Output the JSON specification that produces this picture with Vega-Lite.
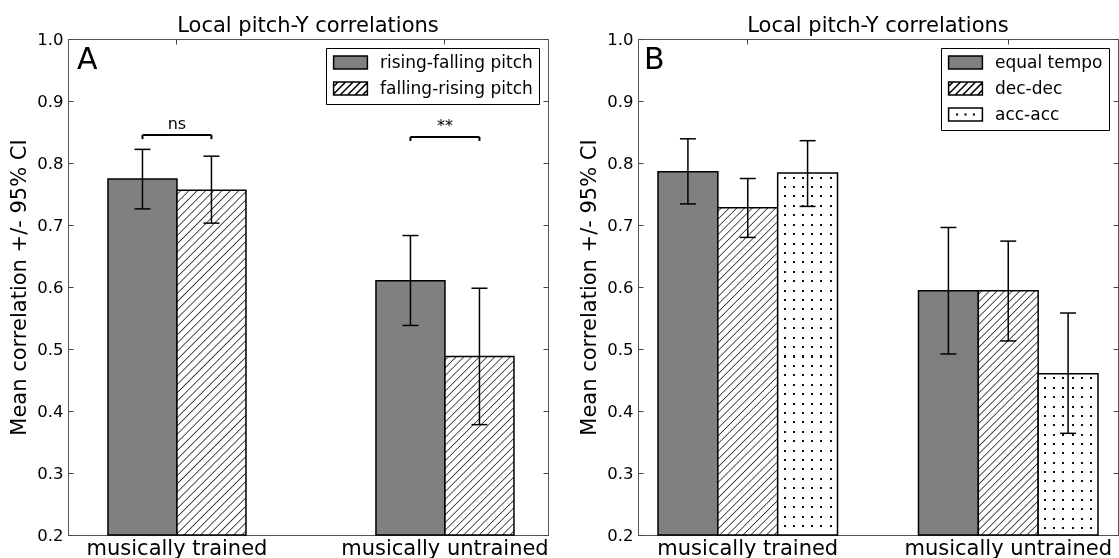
{
  "$schema": "https://vega.github.io/schema/vega-lite/v6.json",
  "background": "white",
  "padding": {"left": 8, "top": 14, "right": 0, "bottom": 0},
  "config": {
    "font": "DejaVu Sans",
    "view": {"stroke": "#555", "strokeWidth": 1},
    "axis": {"labelColor": "black", "titleColor": "black", "gridOpacity": 1, "gridWidth": 1, "labelLimit": 400},
    "title": {"fontSize": 21, "fontWeight": "normal", "color": "black"},
    "legend": {"labelColor": "black"}
  },
  "datasets": {
    "panelA": [
      {"group": "musically trained", "cond": "rising-falling pitch", "mean": 0.774, "lo": 0.726, "hi": 0.822},
      {"group": "musically trained", "cond": "falling-rising pitch", "mean": 0.756, "lo": 0.703, "hi": 0.811},
      {"group": "musically untrained", "cond": "rising-falling pitch", "mean": 0.61, "lo": 0.538, "hi": 0.683},
      {"group": "musically untrained", "cond": "falling-rising pitch", "mean": 0.488, "lo": 0.378, "hi": 0.598}
    ],
    "bracketsA": [
      {"group": "musically trained", "level": 0.845, "mark": "ns"},
      {"group": "musically untrained", "level": 0.842, "mark": "**"}
    ],
    "panelB": [
      {"group": "musically trained", "cond": "equal tempo", "mean": 0.786, "lo": 0.734, "hi": 0.839},
      {"group": "musically trained", "cond": "dec-dec", "mean": 0.728, "lo": 0.68, "hi": 0.775},
      {"group": "musically trained", "cond": "acc-acc", "mean": 0.784, "lo": 0.73, "hi": 0.836},
      {"group": "musically untrained", "cond": "equal tempo", "mean": 0.594, "lo": 0.492, "hi": 0.696},
      {"group": "musically untrained", "cond": "dec-dec", "mean": 0.594, "lo": 0.513, "hi": 0.674},
      {"group": "musically untrained", "cond": "acc-acc", "mean": 0.46, "lo": 0.364, "hi": 0.558}
    ]
  },
  "spacing": 29,
  "resolve": {
    "scale": {"x": "independent", "y": "independent", "xOffset": "independent", "fill": "independent"},
    "legend": {"fill": "independent"}
  },
  "hconcat": [
    {
      "width": 480,
      "height": 496,
      "title": {"text": "Local pitch-Y correlations", "baseline": "alphabetic", "offset": -22},
      "layer": [
        {
          "data": {"name": "panelA"},
          "mark": {"type": "bar", "stroke": "black", "strokeWidth": 1.5},
          "encoding": {
            "x": {"field": "group", "type": "nominal", "sort": ["musically trained", "musically untrained"],
                  "scale": {"paddingInner": 0.4851, "paddingOuter": 0.1381, "align": 0.54},
                  "axis": {"title": null, "labelAngle": 0, "labelFontSize": 21, "labelPadding": 2, "labelLimit": 400, "domain": false, "ticks": false,
                           "grid": true, "gridColor": "#444", "gridDash": [5, 486, 5]}},
            "xOffset": {"field": "cond", "type": "nominal", "sort": ["rising-falling pitch", "falling-rising pitch"],
                        "scale": {"domain": ["rising-falling pitch", "falling-rising pitch"], "paddingInner": 0, "paddingOuter": 0}},
            "y": {"field": "mean", "type": "quantitative",
                  "scale": {"domain": [0.2, 1.0], "zero": false, "nice": false},
                  "axis": {"title": "Mean correlation +/- 95% CI", "values": [0.2, 0.3, 0.4, 0.5, 0.6, 0.7, 0.8, 0.9, 1.0],
                           "format": ".1f", "labelFontSize": 16.5, "labelPadding": 5, "titleFontSize": 21,
                           "titleFontWeight": "normal", "titlePadding": 7, "domain": false, "ticks": false,
                           "grid": true, "gridColor": "#444", "gridDash": [5, 470, 5]}},
            "y2": {"datum": 0.2},
            "fill": {
              "condition": [
                {"test": "datum.cond === 'falling-rising pitch' && datum.group === 'musically trained'",
                 "value": {"gradient": "linear", "x1": 0, "y1": 0, "x2": 0.231, "y2": 1.154, "stops": [
{"offset":0.007,"color":"#fff"},{"offset":0.01,"color":"#333"},{"offset":0.013,"color":"#fff"},
{"offset":0.027,"color":"#fff"},{"offset":0.03,"color":"#333"},{"offset":0.033,"color":"#fff"},
{"offset":0.047,"color":"#fff"},{"offset":0.05,"color":"#333"},{"offset":0.053,"color":"#fff"},
{"offset":0.067,"color":"#fff"},{"offset":0.07,"color":"#333"},{"offset":0.073,"color":"#fff"},
{"offset":0.087,"color":"#fff"},{"offset":0.09,"color":"#333"},{"offset":0.093,"color":"#fff"},
{"offset":0.107,"color":"#fff"},{"offset":0.11,"color":"#333"},{"offset":0.113,"color":"#fff"},
{"offset":0.127,"color":"#fff"},{"offset":0.13,"color":"#333"},{"offset":0.133,"color":"#fff"},
{"offset":0.147,"color":"#fff"},{"offset":0.15,"color":"#333"},{"offset":0.153,"color":"#fff"},
{"offset":0.167,"color":"#fff"},{"offset":0.17,"color":"#333"},{"offset":0.173,"color":"#fff"},
{"offset":0.187,"color":"#fff"},{"offset":0.19,"color":"#333"},{"offset":0.193,"color":"#fff"},
{"offset":0.207,"color":"#fff"},{"offset":0.21,"color":"#333"},{"offset":0.213,"color":"#fff"},
{"offset":0.227,"color":"#fff"},{"offset":0.23,"color":"#333"},{"offset":0.233,"color":"#fff"},
{"offset":0.247,"color":"#fff"},{"offset":0.25,"color":"#333"},{"offset":0.253,"color":"#fff"},
{"offset":0.267,"color":"#fff"},{"offset":0.27,"color":"#333"},{"offset":0.273,"color":"#fff"},
{"offset":0.287,"color":"#fff"},{"offset":0.29,"color":"#333"},{"offset":0.293,"color":"#fff"},
{"offset":0.307,"color":"#fff"},{"offset":0.31,"color":"#333"},{"offset":0.313,"color":"#fff"},
{"offset":0.327,"color":"#fff"},{"offset":0.33,"color":"#333"},{"offset":0.333,"color":"#fff"},
{"offset":0.347,"color":"#fff"},{"offset":0.35,"color":"#333"},{"offset":0.353,"color":"#fff"},
{"offset":0.367,"color":"#fff"},{"offset":0.37,"color":"#333"},{"offset":0.373,"color":"#fff"},
{"offset":0.387,"color":"#fff"},{"offset":0.39,"color":"#333"},{"offset":0.393,"color":"#fff"},
{"offset":0.407,"color":"#fff"},{"offset":0.41,"color":"#333"},{"offset":0.413,"color":"#fff"},
{"offset":0.427,"color":"#fff"},{"offset":0.43,"color":"#333"},{"offset":0.433,"color":"#fff"},
{"offset":0.447,"color":"#fff"},{"offset":0.45,"color":"#333"},{"offset":0.453,"color":"#fff"},
{"offset":0.467,"color":"#fff"},{"offset":0.47,"color":"#333"},{"offset":0.473,"color":"#fff"},
{"offset":0.487,"color":"#fff"},{"offset":0.49,"color":"#333"},{"offset":0.493,"color":"#fff"},
{"offset":0.507,"color":"#fff"},{"offset":0.51,"color":"#333"},{"offset":0.513,"color":"#fff"},
{"offset":0.527,"color":"#fff"},{"offset":0.53,"color":"#333"},{"offset":0.533,"color":"#fff"},
{"offset":0.547,"color":"#fff"},{"offset":0.55,"color":"#333"},{"offset":0.553,"color":"#fff"},
{"offset":0.567,"color":"#fff"},{"offset":0.57,"color":"#333"},{"offset":0.573,"color":"#fff"},
{"offset":0.587,"color":"#fff"},{"offset":0.59,"color":"#333"},{"offset":0.593,"color":"#fff"},
{"offset":0.607,"color":"#fff"},{"offset":0.61,"color":"#333"},{"offset":0.613,"color":"#fff"},
{"offset":0.627,"color":"#fff"},{"offset":0.63,"color":"#333"},{"offset":0.633,"color":"#fff"},
{"offset":0.647,"color":"#fff"},{"offset":0.65,"color":"#333"},{"offset":0.653,"color":"#fff"},
{"offset":0.667,"color":"#fff"},{"offset":0.67,"color":"#333"},{"offset":0.673,"color":"#fff"},
{"offset":0.687,"color":"#fff"},{"offset":0.69,"color":"#333"},{"offset":0.693,"color":"#fff"},
{"offset":0.707,"color":"#fff"},{"offset":0.71,"color":"#333"},{"offset":0.713,"color":"#fff"},
{"offset":0.727,"color":"#fff"},{"offset":0.73,"color":"#333"},{"offset":0.733,"color":"#fff"},
{"offset":0.747,"color":"#fff"},{"offset":0.75,"color":"#333"},{"offset":0.753,"color":"#fff"},
{"offset":0.767,"color":"#fff"},{"offset":0.77,"color":"#333"},{"offset":0.773,"color":"#fff"},
{"offset":0.787,"color":"#fff"},{"offset":0.79,"color":"#333"},{"offset":0.793,"color":"#fff"},
{"offset":0.807,"color":"#fff"},{"offset":0.81,"color":"#333"},{"offset":0.813,"color":"#fff"},
{"offset":0.827,"color":"#fff"},{"offset":0.83,"color":"#333"},{"offset":0.833,"color":"#fff"},
{"offset":0.847,"color":"#fff"},{"offset":0.85,"color":"#333"},{"offset":0.853,"color":"#fff"},
{"offset":0.867,"color":"#fff"},{"offset":0.87,"color":"#333"},{"offset":0.873,"color":"#fff"},
{"offset":0.887,"color":"#fff"},{"offset":0.89,"color":"#333"},{"offset":0.893,"color":"#fff"},
{"offset":0.907,"color":"#fff"},{"offset":0.91,"color":"#333"},{"offset":0.913,"color":"#fff"},
{"offset":0.927,"color":"#fff"},{"offset":0.93,"color":"#333"},{"offset":0.933,"color":"#fff"},
{"offset":0.947,"color":"#fff"},{"offset":0.95,"color":"#333"},{"offset":0.953,"color":"#fff"},
{"offset":0.967,"color":"#fff"},{"offset":0.97,"color":"#333"},{"offset":0.973,"color":"#fff"},
{"offset":0.987,"color":"#fff"},{"offset":0.99,"color":"#333"},{"offset":0.993,"color":"#fff"}
                 ]}},
                {"test": "datum.cond === 'falling-rising pitch' && datum.group === 'musically untrained'",
                 "value": {"gradient": "linear", "x1": 0, "y1": 0, "x2": 0.466, "y2": 1.206, "stops": [
{"offset":0.0109,"color":"#fff"},{"offset":0.0156,"color":"#333"},{"offset":0.0203,"color":"#fff"},
{"offset":0.0422,"color":"#fff"},{"offset":0.0469,"color":"#333"},{"offset":0.0516,"color":"#fff"},
{"offset":0.0734,"color":"#fff"},{"offset":0.0781,"color":"#333"},{"offset":0.0828,"color":"#fff"},
{"offset":0.1047,"color":"#fff"},{"offset":0.1094,"color":"#333"},{"offset":0.1141,"color":"#fff"},
{"offset":0.1359,"color":"#fff"},{"offset":0.1406,"color":"#333"},{"offset":0.1453,"color":"#fff"},
{"offset":0.1672,"color":"#fff"},{"offset":0.1719,"color":"#333"},{"offset":0.1766,"color":"#fff"},
{"offset":0.1984,"color":"#fff"},{"offset":0.2031,"color":"#333"},{"offset":0.2078,"color":"#fff"},
{"offset":0.2297,"color":"#fff"},{"offset":0.2344,"color":"#333"},{"offset":0.2391,"color":"#fff"},
{"offset":0.2609,"color":"#fff"},{"offset":0.2656,"color":"#333"},{"offset":0.2703,"color":"#fff"},
{"offset":0.2922,"color":"#fff"},{"offset":0.2969,"color":"#333"},{"offset":0.3016,"color":"#fff"},
{"offset":0.3234,"color":"#fff"},{"offset":0.3281,"color":"#333"},{"offset":0.3328,"color":"#fff"},
{"offset":0.3547,"color":"#fff"},{"offset":0.3594,"color":"#333"},{"offset":0.3641,"color":"#fff"},
{"offset":0.3859,"color":"#fff"},{"offset":0.3906,"color":"#333"},{"offset":0.3953,"color":"#fff"},
{"offset":0.4172,"color":"#fff"},{"offset":0.4219,"color":"#333"},{"offset":0.4266,"color":"#fff"},
{"offset":0.4484,"color":"#fff"},{"offset":0.4531,"color":"#333"},{"offset":0.4578,"color":"#fff"},
{"offset":0.4797,"color":"#fff"},{"offset":0.4844,"color":"#333"},{"offset":0.4891,"color":"#fff"},
{"offset":0.5109,"color":"#fff"},{"offset":0.5156,"color":"#333"},{"offset":0.5203,"color":"#fff"},
{"offset":0.5422,"color":"#fff"},{"offset":0.5469,"color":"#333"},{"offset":0.5516,"color":"#fff"},
{"offset":0.5734,"color":"#fff"},{"offset":0.5781,"color":"#333"},{"offset":0.5828,"color":"#fff"},
{"offset":0.6047,"color":"#fff"},{"offset":0.6094,"color":"#333"},{"offset":0.6141,"color":"#fff"},
{"offset":0.6359,"color":"#fff"},{"offset":0.6406,"color":"#333"},{"offset":0.6453,"color":"#fff"},
{"offset":0.6672,"color":"#fff"},{"offset":0.6719,"color":"#333"},{"offset":0.6766,"color":"#fff"},
{"offset":0.6984,"color":"#fff"},{"offset":0.7031,"color":"#333"},{"offset":0.7078,"color":"#fff"},
{"offset":0.7297,"color":"#fff"},{"offset":0.7344,"color":"#333"},{"offset":0.7391,"color":"#fff"},
{"offset":0.7609,"color":"#fff"},{"offset":0.7656,"color":"#333"},{"offset":0.7703,"color":"#fff"},
{"offset":0.7922,"color":"#fff"},{"offset":0.7969,"color":"#333"},{"offset":0.8016,"color":"#fff"},
{"offset":0.8234,"color":"#fff"},{"offset":0.8281,"color":"#333"},{"offset":0.8328,"color":"#fff"},
{"offset":0.8547,"color":"#fff"},{"offset":0.8594,"color":"#333"},{"offset":0.8641,"color":"#fff"},
{"offset":0.8859,"color":"#fff"},{"offset":0.8906,"color":"#333"},{"offset":0.8953,"color":"#fff"},
{"offset":0.9172,"color":"#fff"},{"offset":0.9219,"color":"#333"},{"offset":0.9266,"color":"#fff"},
{"offset":0.9484,"color":"#fff"},{"offset":0.9531,"color":"#333"},{"offset":0.9578,"color":"#fff"},
{"offset":0.9797,"color":"#fff"},{"offset":0.9844,"color":"#333"},{"offset":0.9891,"color":"#fff"}
                 ]}}
              ],
              "field": "cond", "type": "nominal", "sort": ["rising-falling pitch", "falling-rising pitch"],
              "scale": {"domain": ["rising-falling pitch", "falling-rising pitch"], "range": ["#808080", "#ffffff"]},
              "legend": {
                "title": null, "orient": "top-right", "offset": 9, "padding": 6,
                "strokeColor": "black", "fillColor": "white", "cornerRadius": 0,
                "labelFontSize": 17, "labelLimit": 400, "symbolSize": 169, "symbolOffset": 10, "labelOffset": 21,
                "rowPadding": 7, "symbolStrokeWidth": 1.5, "symbolStrokeColor": "black",
                "encode": {"symbols": {"update": {
                  "shape": {"signal": "datum.value === 'falling-rising pitch' ? 'M-2.6,-1H2.6V1H-2.6Z M-2.6,-0.3L-1.9,-1 M-2.6,0.85L-0.75,-1 M-1.6,1L0.4,-1 M-0.45,1L1.55,-1 M0.7,1L2.6,-0.9 M1.85,1L2.6,0.25' : 'M-2.6,-1H2.6V1H-2.6Z'"},
                  "stroke": {"value": "black"}, "strokeWidth": {"value": 1.5}
                }}}
              }
            }
          }
        },
        {
          "data": {"name": "panelA"},
          "mark": {"type": "rule", "color": "black", "strokeWidth": 1.5},
          "encoding": {
            "x": {"field": "group", "type": "nominal", "sort": ["musically trained", "musically untrained"]},
            "xOffset": {"field": "cond", "type": "nominal", "sort": ["rising-falling pitch", "falling-rising pitch"]},
            "y": {"field": "lo", "type": "quantitative"},
            "y2": {"field": "hi"}
          }
        },
        {
          "data": {"name": "panelA"},
          "transform": [{"fold": ["lo", "hi"], "as": ["end", "ci"]}],
          "mark": {"type": "tick", "orient": "horizontal", "size": 16, "thickness": 1.5, "color": "black", "opacity": 1},
          "encoding": {
            "x": {"field": "group", "type": "nominal", "sort": ["musically trained", "musically untrained"]},
            "xOffset": {"field": "cond", "type": "nominal", "sort": ["rising-falling pitch", "falling-rising pitch"]},
            "y": {"field": "ci", "type": "quantitative"}
          }
        },
        {
          "data": {"name": "bracketsA"},
          "mark": {"type": "tick", "orient": "horizontal", "size": 69, "thickness": 2, "color": "black", "opacity": 1},
          "encoding": {
            "x": {"field": "group", "type": "nominal", "sort": ["musically trained", "musically untrained"]},
            "y": {"field": "level", "type": "quantitative"}
          }
        },
        {
          "data": {"name": "bracketsA"},
          "mark": {"type": "rule", "color": "black", "strokeWidth": 2, "y2Offset": 4},
          "encoding": {
            "x": {"field": "group", "type": "nominal", "sort": ["musically trained", "musically untrained"], "bandPosition": 0.25},
            "y": {"field": "level", "type": "quantitative"},
            "y2": {"field": "level"}
          }
        },
        {
          "data": {"name": "bracketsA"},
          "mark": {"type": "rule", "color": "black", "strokeWidth": 2, "y2Offset": 4},
          "encoding": {
            "x": {"field": "group", "type": "nominal", "sort": ["musically trained", "musically untrained"], "bandPosition": 0.75},
            "y": {"field": "level", "type": "quantitative"},
            "y2": {"field": "level"}
          }
        },
        {
          "data": {"name": "bracketsA"},
          "mark": {"type": "text", "fontSize": 16, "baseline": "alphabetic", "dy": -6, "color": "black"},
          "encoding": {
            "x": {"field": "group", "type": "nominal", "sort": ["musically trained", "musically untrained"]},
            "y": {"field": "level", "type": "quantitative"},
            "text": {"field": "mark"}
          }
        },
        {
          "data": {"values": [{"panel": "A"}]},
          "mark": {"type": "text", "fontSize": 30, "align": "left", "baseline": "alphabetic", "dx": -31, "dy": 30, "color": "black"},
          "encoding": {
            "x": {"datum": "musically trained", "type": "nominal", "bandPosition": 0},
            "y": {"datum": 1.0, "type": "quantitative"},
            "text": {"field": "panel"}
          }
        }
      ]
    },
    {
      "width": 480,
      "height": 496,
      "title": {"text": "Local pitch-Y correlations", "baseline": "alphabetic", "offset": -22},
      "layer": [
        {
          "data": {"name": "panelB"},
          "mark": {"type": "bar", "stroke": "black", "strokeWidth": 1.5},
          "encoding": {
            "x": {"field": "group", "type": "nominal", "sort": ["musically trained", "musically untrained"],
                  "scale": {"paddingInner": 0.3109, "paddingOuter": 0.0768},
                  "axis": {"title": null, "labelAngle": 0, "labelFontSize": 21, "labelPadding": 2, "labelLimit": 400, "domain": false, "ticks": false,
                           "grid": true, "gridColor": "#444", "gridDash": [5, 486, 5]}},
            "xOffset": {"field": "cond", "type": "nominal", "sort": ["equal tempo", "dec-dec", "acc-acc"],
                        "scale": {"domain": ["equal tempo", "dec-dec", "acc-acc"], "paddingInner": 0, "paddingOuter": 0}},
            "y": {"field": "mean", "type": "quantitative",
                  "scale": {"domain": [0.2, 1.0], "zero": false, "nice": false},
                  "axis": {"title": "Mean correlation +/- 95% CI", "values": [0.2, 0.3, 0.4, 0.5, 0.6, 0.7, 0.8, 0.9, 1.0],
                           "format": ".1f", "labelFontSize": 16.5, "labelPadding": 5, "titleFontSize": 21,
                           "titleFontWeight": "normal", "titlePadding": 7, "domain": false, "ticks": false,
                           "grid": true, "gridColor": "#444", "gridDash": [5, 470, 5]}},
            "y2": {"datum": 0.2},
            "fill": {
              "condition": [
                {"test": "datum.cond === 'dec-dec' && datum.group === 'musically trained'",
                 "value": {"gradient": "linear", "x1": 0, "y1": 0, "x2": 0.209, "y2": 1.145, "stops": [
{"offset":0.007,"color":"#fff"},{"offset":0.01,"color":"#333"},{"offset":0.013,"color":"#fff"},
{"offset":0.027,"color":"#fff"},{"offset":0.03,"color":"#333"},{"offset":0.033,"color":"#fff"},
{"offset":0.047,"color":"#fff"},{"offset":0.05,"color":"#333"},{"offset":0.053,"color":"#fff"},
{"offset":0.067,"color":"#fff"},{"offset":0.07,"color":"#333"},{"offset":0.073,"color":"#fff"},
{"offset":0.087,"color":"#fff"},{"offset":0.09,"color":"#333"},{"offset":0.093,"color":"#fff"},
{"offset":0.107,"color":"#fff"},{"offset":0.11,"color":"#333"},{"offset":0.113,"color":"#fff"},
{"offset":0.127,"color":"#fff"},{"offset":0.13,"color":"#333"},{"offset":0.133,"color":"#fff"},
{"offset":0.147,"color":"#fff"},{"offset":0.15,"color":"#333"},{"offset":0.153,"color":"#fff"},
{"offset":0.167,"color":"#fff"},{"offset":0.17,"color":"#333"},{"offset":0.173,"color":"#fff"},
{"offset":0.187,"color":"#fff"},{"offset":0.19,"color":"#333"},{"offset":0.193,"color":"#fff"},
{"offset":0.207,"color":"#fff"},{"offset":0.21,"color":"#333"},{"offset":0.213,"color":"#fff"},
{"offset":0.227,"color":"#fff"},{"offset":0.23,"color":"#333"},{"offset":0.233,"color":"#fff"},
{"offset":0.247,"color":"#fff"},{"offset":0.25,"color":"#333"},{"offset":0.253,"color":"#fff"},
{"offset":0.267,"color":"#fff"},{"offset":0.27,"color":"#333"},{"offset":0.273,"color":"#fff"},
{"offset":0.287,"color":"#fff"},{"offset":0.29,"color":"#333"},{"offset":0.293,"color":"#fff"},
{"offset":0.307,"color":"#fff"},{"offset":0.31,"color":"#333"},{"offset":0.313,"color":"#fff"},
{"offset":0.327,"color":"#fff"},{"offset":0.33,"color":"#333"},{"offset":0.333,"color":"#fff"},
{"offset":0.347,"color":"#fff"},{"offset":0.35,"color":"#333"},{"offset":0.353,"color":"#fff"},
{"offset":0.367,"color":"#fff"},{"offset":0.37,"color":"#333"},{"offset":0.373,"color":"#fff"},
{"offset":0.387,"color":"#fff"},{"offset":0.39,"color":"#333"},{"offset":0.393,"color":"#fff"},
{"offset":0.407,"color":"#fff"},{"offset":0.41,"color":"#333"},{"offset":0.413,"color":"#fff"},
{"offset":0.427,"color":"#fff"},{"offset":0.43,"color":"#333"},{"offset":0.433,"color":"#fff"},
{"offset":0.447,"color":"#fff"},{"offset":0.45,"color":"#333"},{"offset":0.453,"color":"#fff"},
{"offset":0.467,"color":"#fff"},{"offset":0.47,"color":"#333"},{"offset":0.473,"color":"#fff"},
{"offset":0.487,"color":"#fff"},{"offset":0.49,"color":"#333"},{"offset":0.493,"color":"#fff"},
{"offset":0.507,"color":"#fff"},{"offset":0.51,"color":"#333"},{"offset":0.513,"color":"#fff"},
{"offset":0.527,"color":"#fff"},{"offset":0.53,"color":"#333"},{"offset":0.533,"color":"#fff"},
{"offset":0.547,"color":"#fff"},{"offset":0.55,"color":"#333"},{"offset":0.553,"color":"#fff"},
{"offset":0.567,"color":"#fff"},{"offset":0.57,"color":"#333"},{"offset":0.573,"color":"#fff"},
{"offset":0.587,"color":"#fff"},{"offset":0.59,"color":"#333"},{"offset":0.593,"color":"#fff"},
{"offset":0.607,"color":"#fff"},{"offset":0.61,"color":"#333"},{"offset":0.613,"color":"#fff"},
{"offset":0.627,"color":"#fff"},{"offset":0.63,"color":"#333"},{"offset":0.633,"color":"#fff"},
{"offset":0.647,"color":"#fff"},{"offset":0.65,"color":"#333"},{"offset":0.653,"color":"#fff"},
{"offset":0.667,"color":"#fff"},{"offset":0.67,"color":"#333"},{"offset":0.673,"color":"#fff"},
{"offset":0.687,"color":"#fff"},{"offset":0.69,"color":"#333"},{"offset":0.693,"color":"#fff"},
{"offset":0.707,"color":"#fff"},{"offset":0.71,"color":"#333"},{"offset":0.713,"color":"#fff"},
{"offset":0.727,"color":"#fff"},{"offset":0.73,"color":"#333"},{"offset":0.733,"color":"#fff"},
{"offset":0.747,"color":"#fff"},{"offset":0.75,"color":"#333"},{"offset":0.753,"color":"#fff"},
{"offset":0.767,"color":"#fff"},{"offset":0.77,"color":"#333"},{"offset":0.773,"color":"#fff"},
{"offset":0.787,"color":"#fff"},{"offset":0.79,"color":"#333"},{"offset":0.793,"color":"#fff"},
{"offset":0.807,"color":"#fff"},{"offset":0.81,"color":"#333"},{"offset":0.813,"color":"#fff"},
{"offset":0.827,"color":"#fff"},{"offset":0.83,"color":"#333"},{"offset":0.833,"color":"#fff"},
{"offset":0.847,"color":"#fff"},{"offset":0.85,"color":"#333"},{"offset":0.853,"color":"#fff"},
{"offset":0.867,"color":"#fff"},{"offset":0.87,"color":"#333"},{"offset":0.873,"color":"#fff"},
{"offset":0.887,"color":"#fff"},{"offset":0.89,"color":"#333"},{"offset":0.893,"color":"#fff"},
{"offset":0.907,"color":"#fff"},{"offset":0.91,"color":"#333"},{"offset":0.913,"color":"#fff"},
{"offset":0.927,"color":"#fff"},{"offset":0.93,"color":"#333"},{"offset":0.933,"color":"#fff"},
{"offset":0.947,"color":"#fff"},{"offset":0.95,"color":"#333"},{"offset":0.953,"color":"#fff"},
{"offset":0.967,"color":"#fff"},{"offset":0.97,"color":"#333"},{"offset":0.973,"color":"#fff"},
{"offset":0.987,"color":"#fff"},{"offset":0.99,"color":"#333"},{"offset":0.993,"color":"#fff"}
                 ]}},
                {"test": "datum.cond === 'dec-dec' && datum.group === 'musically untrained'",
                 "value": {"gradient": "linear", "x1": 0, "y1": 0, "x2": 0.288, "y2": 1.175, "stops": [
{"offset":0.0085,"color":"#fff"},{"offset":0.0125,"color":"#333"},{"offset":0.0165,"color":"#fff"},
{"offset":0.0335,"color":"#fff"},{"offset":0.0375,"color":"#333"},{"offset":0.0415,"color":"#fff"},
{"offset":0.0585,"color":"#fff"},{"offset":0.0625,"color":"#333"},{"offset":0.0665,"color":"#fff"},
{"offset":0.0835,"color":"#fff"},{"offset":0.0875,"color":"#333"},{"offset":0.0915,"color":"#fff"},
{"offset":0.1085,"color":"#fff"},{"offset":0.1125,"color":"#333"},{"offset":0.1165,"color":"#fff"},
{"offset":0.1335,"color":"#fff"},{"offset":0.1375,"color":"#333"},{"offset":0.1415,"color":"#fff"},
{"offset":0.1585,"color":"#fff"},{"offset":0.1625,"color":"#333"},{"offset":0.1665,"color":"#fff"},
{"offset":0.1835,"color":"#fff"},{"offset":0.1875,"color":"#333"},{"offset":0.1915,"color":"#fff"},
{"offset":0.2085,"color":"#fff"},{"offset":0.2125,"color":"#333"},{"offset":0.2165,"color":"#fff"},
{"offset":0.2335,"color":"#fff"},{"offset":0.2375,"color":"#333"},{"offset":0.2415,"color":"#fff"},
{"offset":0.2585,"color":"#fff"},{"offset":0.2625,"color":"#333"},{"offset":0.2665,"color":"#fff"},
{"offset":0.2835,"color":"#fff"},{"offset":0.2875,"color":"#333"},{"offset":0.2915,"color":"#fff"},
{"offset":0.3085,"color":"#fff"},{"offset":0.3125,"color":"#333"},{"offset":0.3165,"color":"#fff"},
{"offset":0.3335,"color":"#fff"},{"offset":0.3375,"color":"#333"},{"offset":0.3415,"color":"#fff"},
{"offset":0.3585,"color":"#fff"},{"offset":0.3625,"color":"#333"},{"offset":0.3665,"color":"#fff"},
{"offset":0.3835,"color":"#fff"},{"offset":0.3875,"color":"#333"},{"offset":0.3915,"color":"#fff"},
{"offset":0.4085,"color":"#fff"},{"offset":0.4125,"color":"#333"},{"offset":0.4165,"color":"#fff"},
{"offset":0.4335,"color":"#fff"},{"offset":0.4375,"color":"#333"},{"offset":0.4415,"color":"#fff"},
{"offset":0.4585,"color":"#fff"},{"offset":0.4625,"color":"#333"},{"offset":0.4665,"color":"#fff"},
{"offset":0.4835,"color":"#fff"},{"offset":0.4875,"color":"#333"},{"offset":0.4915,"color":"#fff"},
{"offset":0.5085,"color":"#fff"},{"offset":0.5125,"color":"#333"},{"offset":0.5165,"color":"#fff"},
{"offset":0.5335,"color":"#fff"},{"offset":0.5375,"color":"#333"},{"offset":0.5415,"color":"#fff"},
{"offset":0.5585,"color":"#fff"},{"offset":0.5625,"color":"#333"},{"offset":0.5665,"color":"#fff"},
{"offset":0.5835,"color":"#fff"},{"offset":0.5875,"color":"#333"},{"offset":0.5915,"color":"#fff"},
{"offset":0.6085,"color":"#fff"},{"offset":0.6125,"color":"#333"},{"offset":0.6165,"color":"#fff"},
{"offset":0.6335,"color":"#fff"},{"offset":0.6375,"color":"#333"},{"offset":0.6415,"color":"#fff"},
{"offset":0.6585,"color":"#fff"},{"offset":0.6625,"color":"#333"},{"offset":0.6665,"color":"#fff"},
{"offset":0.6835,"color":"#fff"},{"offset":0.6875,"color":"#333"},{"offset":0.6915,"color":"#fff"},
{"offset":0.7085,"color":"#fff"},{"offset":0.7125,"color":"#333"},{"offset":0.7165,"color":"#fff"},
{"offset":0.7335,"color":"#fff"},{"offset":0.7375,"color":"#333"},{"offset":0.7415,"color":"#fff"},
{"offset":0.7585,"color":"#fff"},{"offset":0.7625,"color":"#333"},{"offset":0.7665,"color":"#fff"},
{"offset":0.7835,"color":"#fff"},{"offset":0.7875,"color":"#333"},{"offset":0.7915,"color":"#fff"},
{"offset":0.8085,"color":"#fff"},{"offset":0.8125,"color":"#333"},{"offset":0.8165,"color":"#fff"},
{"offset":0.8335,"color":"#fff"},{"offset":0.8375,"color":"#333"},{"offset":0.8415,"color":"#fff"},
{"offset":0.8585,"color":"#fff"},{"offset":0.8625,"color":"#333"},{"offset":0.8665,"color":"#fff"},
{"offset":0.8835,"color":"#fff"},{"offset":0.8875,"color":"#333"},{"offset":0.8915,"color":"#fff"},
{"offset":0.9085,"color":"#fff"},{"offset":0.9125,"color":"#333"},{"offset":0.9165,"color":"#fff"},
{"offset":0.9335,"color":"#fff"},{"offset":0.9375,"color":"#333"},{"offset":0.9415,"color":"#fff"},
{"offset":0.9585,"color":"#fff"},{"offset":0.9625,"color":"#333"},{"offset":0.9665,"color":"#fff"},
{"offset":0.9835,"color":"#fff"},{"offset":0.9875,"color":"#333"},{"offset":0.9915,"color":"#fff"}
                 ]}},
                {"test": "datum.cond === 'acc-acc'",
                 "value": {"gradient": "linear", "x1": 0, "y1": 0, "x2": 1, "y2": 0, "stops": [
{"offset":0.0983,"color":"#fff"},{"offset":0.0983,"color":"#111"},{"offset":0.1317,"color":"#111"},{"offset":0.1317,"color":"#fff"},
{"offset":0.2523,"color":"#fff"},{"offset":0.2523,"color":"#111"},{"offset":0.2857,"color":"#111"},{"offset":0.2857,"color":"#fff"},
{"offset":0.4063,"color":"#fff"},{"offset":0.4063,"color":"#111"},{"offset":0.4397,"color":"#111"},{"offset":0.4397,"color":"#fff"},
{"offset":0.5603,"color":"#fff"},{"offset":0.5603,"color":"#111"},{"offset":0.5937,"color":"#111"},{"offset":0.5937,"color":"#fff"},
{"offset":0.7143,"color":"#fff"},{"offset":0.7143,"color":"#111"},{"offset":0.7477,"color":"#111"},{"offset":0.7477,"color":"#fff"},
{"offset":0.8683,"color":"#fff"},{"offset":0.8683,"color":"#111"},{"offset":0.9017,"color":"#111"},{"offset":0.9017,"color":"#fff"}
                 ]}}
              ],
              "field": "cond", "type": "nominal", "sort": ["equal tempo", "dec-dec", "acc-acc"],
              "scale": {"domain": ["equal tempo", "dec-dec", "acc-acc"], "range": ["#808080", "#ffffff", "#ffffff"]},
              "legend": {
                "title": null, "orient": "top-right", "offset": 9, "padding": 6,
                "strokeColor": "black", "fillColor": "white", "cornerRadius": 0,
                "labelFontSize": 17, "labelLimit": 400, "symbolSize": 169, "symbolOffset": 10, "labelOffset": 21,
                "rowPadding": 7, "symbolStrokeWidth": 1.5, "symbolStrokeColor": "black",
                "encode": {"symbols": {"update": {
                  "shape": {"signal": "datum.value === 'dec-dec' ? 'M-2.6,-1H2.6V1H-2.6Z M-2.6,-0.3L-1.9,-1 M-2.6,0.85L-0.75,-1 M-1.6,1L0.4,-1 M-0.45,1L1.55,-1 M0.7,1L2.6,-0.9 M1.85,1L2.6,0.25' : datum.value === 'acc-acc' ? 'M-2.6,-1H2.6V1H-2.6Z M-1.35,-0.05h0.1v0.1h-0.1Z M-0.05,-0.05h0.1v0.1h-0.1Z M1.25,-0.05h0.1v0.1h-0.1Z' : 'M-2.6,-1H2.6V1H-2.6Z'"},
                  "stroke": {"value": "black"}, "strokeWidth": {"value": 1.5}
                }}}
              }
            }
          }
        },
        {
          "data": {"name": "panelB"},
          "transform": [{"filter": "datum.cond === 'acc-acc'"}],
          "mark": {"type": "bar", "stroke": "black", "strokeWidth": 1.5, "blend": "lighten"},
          "encoding": {
            "x": {"field": "group", "type": "nominal", "sort": ["musically trained", "musically untrained"]},
            "xOffset": {"field": "cond", "type": "nominal", "sort": ["equal tempo", "dec-dec", "acc-acc"]},
            "y": {"field": "mean", "type": "quantitative"},
            "y2": {"datum": 0.2},
            "fill": {
              "condition": {"test": "datum.group === 'musically trained'",
                "value": {"gradient": "linear", "x1": 0, "y1": 0, "x2": 0, "y2": 1, "stops": [
{"offset":0.0102,"color":"#fff"},{"offset":0.0102,"color":"#111"},{"offset":0.0158,"color":"#111"},{"offset":0.0158,"color":"#fff"},
{"offset":0.0362,"color":"#fff"},{"offset":0.0362,"color":"#111"},{"offset":0.0418,"color":"#111"},{"offset":0.0418,"color":"#fff"},
{"offset":0.0622,"color":"#fff"},{"offset":0.0622,"color":"#111"},{"offset":0.0678,"color":"#111"},{"offset":0.0678,"color":"#fff"},
{"offset":0.0882,"color":"#fff"},{"offset":0.0882,"color":"#111"},{"offset":0.0938,"color":"#111"},{"offset":0.0938,"color":"#fff"},
{"offset":0.1142,"color":"#fff"},{"offset":0.1142,"color":"#111"},{"offset":0.1198,"color":"#111"},{"offset":0.1198,"color":"#fff"},
{"offset":0.1402,"color":"#fff"},{"offset":0.1402,"color":"#111"},{"offset":0.1458,"color":"#111"},{"offset":0.1458,"color":"#fff"},
{"offset":0.1662,"color":"#fff"},{"offset":0.1662,"color":"#111"},{"offset":0.1718,"color":"#111"},{"offset":0.1718,"color":"#fff"},
{"offset":0.1922,"color":"#fff"},{"offset":0.1922,"color":"#111"},{"offset":0.1978,"color":"#111"},{"offset":0.1978,"color":"#fff"},
{"offset":0.2182,"color":"#fff"},{"offset":0.2182,"color":"#111"},{"offset":0.2238,"color":"#111"},{"offset":0.2238,"color":"#fff"},
{"offset":0.2442,"color":"#fff"},{"offset":0.2442,"color":"#111"},{"offset":0.2498,"color":"#111"},{"offset":0.2498,"color":"#fff"},
{"offset":0.2702,"color":"#fff"},{"offset":0.2702,"color":"#111"},{"offset":0.2758,"color":"#111"},{"offset":0.2758,"color":"#fff"},
{"offset":0.2962,"color":"#fff"},{"offset":0.2962,"color":"#111"},{"offset":0.3018,"color":"#111"},{"offset":0.3018,"color":"#fff"},
{"offset":0.3222,"color":"#fff"},{"offset":0.3222,"color":"#111"},{"offset":0.3278,"color":"#111"},{"offset":0.3278,"color":"#fff"},
{"offset":0.3482,"color":"#fff"},{"offset":0.3482,"color":"#111"},{"offset":0.3538,"color":"#111"},{"offset":0.3538,"color":"#fff"},
{"offset":0.3742,"color":"#fff"},{"offset":0.3742,"color":"#111"},{"offset":0.3798,"color":"#111"},{"offset":0.3798,"color":"#fff"},
{"offset":0.4002,"color":"#fff"},{"offset":0.4002,"color":"#111"},{"offset":0.4058,"color":"#111"},{"offset":0.4058,"color":"#fff"},
{"offset":0.4262,"color":"#fff"},{"offset":0.4262,"color":"#111"},{"offset":0.4318,"color":"#111"},{"offset":0.4318,"color":"#fff"},
{"offset":0.4522,"color":"#fff"},{"offset":0.4522,"color":"#111"},{"offset":0.4578,"color":"#111"},{"offset":0.4578,"color":"#fff"},
{"offset":0.4782,"color":"#fff"},{"offset":0.4782,"color":"#111"},{"offset":0.4838,"color":"#111"},{"offset":0.4838,"color":"#fff"},
{"offset":0.5042,"color":"#fff"},{"offset":0.5042,"color":"#111"},{"offset":0.5098,"color":"#111"},{"offset":0.5098,"color":"#fff"},
{"offset":0.5302,"color":"#fff"},{"offset":0.5302,"color":"#111"},{"offset":0.5358,"color":"#111"},{"offset":0.5358,"color":"#fff"},
{"offset":0.5562,"color":"#fff"},{"offset":0.5562,"color":"#111"},{"offset":0.5618,"color":"#111"},{"offset":0.5618,"color":"#fff"},
{"offset":0.5822,"color":"#fff"},{"offset":0.5822,"color":"#111"},{"offset":0.5878,"color":"#111"},{"offset":0.5878,"color":"#fff"},
{"offset":0.6082,"color":"#fff"},{"offset":0.6082,"color":"#111"},{"offset":0.6138,"color":"#111"},{"offset":0.6138,"color":"#fff"},
{"offset":0.6342,"color":"#fff"},{"offset":0.6342,"color":"#111"},{"offset":0.6398,"color":"#111"},{"offset":0.6398,"color":"#fff"},
{"offset":0.6602,"color":"#fff"},{"offset":0.6602,"color":"#111"},{"offset":0.6658,"color":"#111"},{"offset":0.6658,"color":"#fff"},
{"offset":0.6862,"color":"#fff"},{"offset":0.6862,"color":"#111"},{"offset":0.6918,"color":"#111"},{"offset":0.6918,"color":"#fff"},
{"offset":0.7122,"color":"#fff"},{"offset":0.7122,"color":"#111"},{"offset":0.7178,"color":"#111"},{"offset":0.7178,"color":"#fff"},
{"offset":0.7382,"color":"#fff"},{"offset":0.7382,"color":"#111"},{"offset":0.7438,"color":"#111"},{"offset":0.7438,"color":"#fff"},
{"offset":0.7642,"color":"#fff"},{"offset":0.7642,"color":"#111"},{"offset":0.7698,"color":"#111"},{"offset":0.7698,"color":"#fff"},
{"offset":0.7902,"color":"#fff"},{"offset":0.7902,"color":"#111"},{"offset":0.7958,"color":"#111"},{"offset":0.7958,"color":"#fff"},
{"offset":0.8162,"color":"#fff"},{"offset":0.8162,"color":"#111"},{"offset":0.8218,"color":"#111"},{"offset":0.8218,"color":"#fff"},
{"offset":0.8422,"color":"#fff"},{"offset":0.8422,"color":"#111"},{"offset":0.8478,"color":"#111"},{"offset":0.8478,"color":"#fff"},
{"offset":0.8682,"color":"#fff"},{"offset":0.8682,"color":"#111"},{"offset":0.8738,"color":"#111"},{"offset":0.8738,"color":"#fff"},
{"offset":0.8942,"color":"#fff"},{"offset":0.8942,"color":"#111"},{"offset":0.8998,"color":"#111"},{"offset":0.8998,"color":"#fff"},
{"offset":0.9202,"color":"#fff"},{"offset":0.9202,"color":"#111"},{"offset":0.9258,"color":"#111"},{"offset":0.9258,"color":"#fff"},
{"offset":0.9462,"color":"#fff"},{"offset":0.9462,"color":"#111"},{"offset":0.9518,"color":"#111"},{"offset":0.9518,"color":"#fff"},
{"offset":0.9722,"color":"#fff"},{"offset":0.9722,"color":"#111"},{"offset":0.9778,"color":"#111"},{"offset":0.9778,"color":"#fff"}
                ]}},
              "value": {"gradient": "linear", "x1": 0, "y1": 0, "x2": 0, "y2": 1, "stops": [
{"offset":0.0228,"color":"#fff"},{"offset":0.0228,"color":"#111"},{"offset":0.0352,"color":"#111"},{"offset":0.0352,"color":"#fff"},
{"offset":0.0808,"color":"#fff"},{"offset":0.0808,"color":"#111"},{"offset":0.0932,"color":"#111"},{"offset":0.0932,"color":"#fff"},
{"offset":0.1388,"color":"#fff"},{"offset":0.1388,"color":"#111"},{"offset":0.1512,"color":"#111"},{"offset":0.1512,"color":"#fff"},
{"offset":0.1968,"color":"#fff"},{"offset":0.1968,"color":"#111"},{"offset":0.2092,"color":"#111"},{"offset":0.2092,"color":"#fff"},
{"offset":0.2548,"color":"#fff"},{"offset":0.2548,"color":"#111"},{"offset":0.2672,"color":"#111"},{"offset":0.2672,"color":"#fff"},
{"offset":0.3128,"color":"#fff"},{"offset":0.3128,"color":"#111"},{"offset":0.3252,"color":"#111"},{"offset":0.3252,"color":"#fff"},
{"offset":0.3708,"color":"#fff"},{"offset":0.3708,"color":"#111"},{"offset":0.3832,"color":"#111"},{"offset":0.3832,"color":"#fff"},
{"offset":0.4288,"color":"#fff"},{"offset":0.4288,"color":"#111"},{"offset":0.4412,"color":"#111"},{"offset":0.4412,"color":"#fff"},
{"offset":0.4868,"color":"#fff"},{"offset":0.4868,"color":"#111"},{"offset":0.4992,"color":"#111"},{"offset":0.4992,"color":"#fff"},
{"offset":0.5448,"color":"#fff"},{"offset":0.5448,"color":"#111"},{"offset":0.5572,"color":"#111"},{"offset":0.5572,"color":"#fff"},
{"offset":0.6028,"color":"#fff"},{"offset":0.6028,"color":"#111"},{"offset":0.6152,"color":"#111"},{"offset":0.6152,"color":"#fff"},
{"offset":0.6608,"color":"#fff"},{"offset":0.6608,"color":"#111"},{"offset":0.6732,"color":"#111"},{"offset":0.6732,"color":"#fff"},
{"offset":0.7188,"color":"#fff"},{"offset":0.7188,"color":"#111"},{"offset":0.7312,"color":"#111"},{"offset":0.7312,"color":"#fff"},
{"offset":0.7768,"color":"#fff"},{"offset":0.7768,"color":"#111"},{"offset":0.7892,"color":"#111"},{"offset":0.7892,"color":"#fff"},
{"offset":0.8348,"color":"#fff"},{"offset":0.8348,"color":"#111"},{"offset":0.8472,"color":"#111"},{"offset":0.8472,"color":"#fff"},
{"offset":0.8928,"color":"#fff"},{"offset":0.8928,"color":"#111"},{"offset":0.9052,"color":"#111"},{"offset":0.9052,"color":"#fff"},
{"offset":0.9508,"color":"#fff"},{"offset":0.9508,"color":"#111"},{"offset":0.9632,"color":"#111"},{"offset":0.9632,"color":"#fff"}
              ]}
            }
          }
        },
        {
          "data": {"name": "panelB"},
          "mark": {"type": "rule", "color": "black", "strokeWidth": 1.5},
          "encoding": {
            "x": {"field": "group", "type": "nominal", "sort": ["musically trained", "musically untrained"]},
            "xOffset": {"field": "cond", "type": "nominal", "sort": ["equal tempo", "dec-dec", "acc-acc"]},
            "y": {"field": "lo", "type": "quantitative"},
            "y2": {"field": "hi"}
          }
        },
        {
          "data": {"name": "panelB"},
          "transform": [{"fold": ["lo", "hi"], "as": ["end", "ci"]}],
          "mark": {"type": "tick", "orient": "horizontal", "size": 16, "thickness": 1.5, "color": "black", "opacity": 1},
          "encoding": {
            "x": {"field": "group", "type": "nominal", "sort": ["musically trained", "musically untrained"]},
            "xOffset": {"field": "cond", "type": "nominal", "sort": ["equal tempo", "dec-dec", "acc-acc"]},
            "y": {"field": "ci", "type": "quantitative"}
          }
        },
        {
          "data": {"values": [{"panel": "B"}]},
          "mark": {"type": "text", "fontSize": 30, "align": "left", "baseline": "alphabetic", "dx": -14, "dy": 30, "color": "black"},
          "encoding": {
            "x": {"datum": "musically trained", "type": "nominal", "bandPosition": 0},
            "y": {"datum": 1.0, "type": "quantitative"},
            "text": {"field": "panel"}
          }
        }
      ]
    }
  ]
}
